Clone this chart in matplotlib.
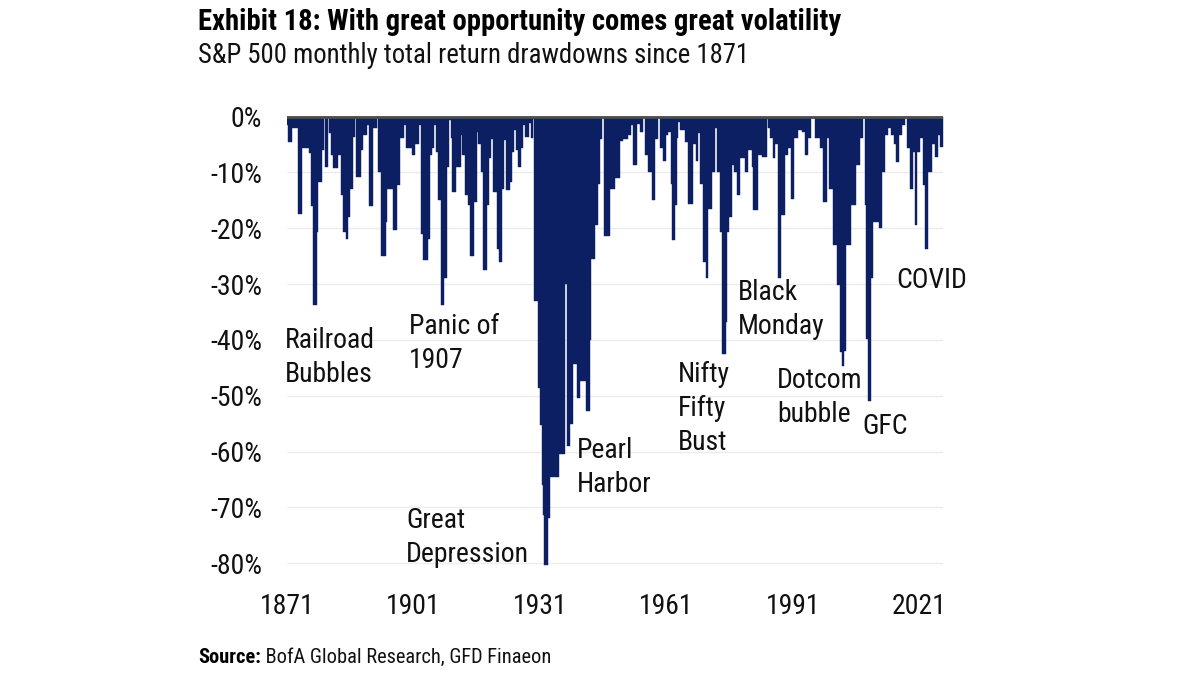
import matplotlib
matplotlib.use("Agg")
import matplotlib.pyplot as plt
import matplotlib.font_manager as fm
from matplotlib.font_manager import FontProperties

# ---------------- data ----------------
years = [1871.0, 1871.3, 1872.2, 1873.5, 1874.5, 1876.2, 1876.6, 1877.05, 1878.0, 1878.4,
         1879.2, 1879.7, 1879.9, 1880.6, 1880.9, 1881.3, 1881.9, 1883.1, 1883.7, 1884.3,
         1884.95, 1885.5, 1885.9, 1886.5, 1887.1, 1887.25, 1888.5, 1889.05, 1890.0, 1890.5,
         1891.4, 1892.2, 1892.45, 1892.6, 1893.25, 1894.4, 1894.8, 1896.2, 1897.0, 1897.8,
         1898.7, 1899.2, 1900.5, 1901.3, 1902.3, 1902.7, 1903.3, 1904.3, 1904.9, 1905.3,
         1905.9, 1906.2, 1906.85, 1907.5, 1908.3, 1908.85, 1909.5, 1909.9, 1910.2, 1911.05,
         1912.2, 1912.5, 1913.2, 1914.0, 1914.4, 1915.4, 1916.0, 1916.3, 1916.9, 1917.5,
         1918.3, 1918.9, 1919.35, 1919.75, 1920.7, 1921.25, 1922.0, 1922.5, 1922.9, 1923.85,
         1924.4, 1924.9, 1925.3, 1925.8, 1926.6, 1927.0, 1927.4, 1928.4, 1928.8, 1929.3,
         1929.6, 1930.4, 1931.0, 1931.4, 1931.75, 1932.0, 1932.95, 1933.4, 1935.5, 1936.9,
         1937.3, 1938.0, 1938.9, 1939.8, 1940.5, 1941.9, 1942.8, 1943.2, 1944.0, 1944.7,
         1945.2, 1945.8, 1946.2, 1947.6, 1948.8, 1950.0, 1950.7, 1951.9, 1952.5, 1953.1,
         1953.9, 1954.7, 1955.5, 1955.9, 1956.7, 1957.5, 1958.4, 1959.0, 1959.45, 1960.1,
         1961.0, 1961.4, 1962.0, 1962.35, 1963.0, 1963.4, 1963.8, 1964.2, 1965.4, 1966.2,
         1967.2, 1967.9, 1968.6, 1968.9, 1969.7, 1970.3, 1970.9, 1971.7, 1972.5, 1973.05,
         1973.7, 1974.3, 1975.1, 1975.4, 1975.9, 1976.5, 1977.1, 1977.65, 1978.4, 1979.6,
         1980.4, 1981.2, 1981.6, 1982.8, 1983.6, 1984.8, 1985.1, 1985.5, 1986.2, 1986.7,
         1987.5, 1988.3, 1989.1, 1989.9, 1990.45, 1991.2, 1992.3, 1993.1, 1993.85, 1994.6,
         1995.2, 1996.2, 1997.4, 1998.2, 1999.0, 1999.6, 2000.6, 2001.4, 2002.3, 2002.55,
         2003.1, 2003.6, 2004.9, 2006.1, 2006.9, 2007.7, 2008.1, 2008.45, 2008.85, 2009.45,
         2010.05, 2011.5, 2012.05, 2012.8, 2013.6, 2014.4, 2015.0, 2015.4, 2016.2, 2016.8,
         2017.6, 2018.0, 2018.75, 2019.4, 2019.95, 2020.5, 2021.1, 2021.9, 2022.4, 2023.1,
         2023.9, 2024.7, 2025.5, 2025.9, 2026.6]

drawdown = [-1.5, -4.5, -2.1, -17.4, -5.7, -6.6, -16.0, -33.8, -20.7, -11.7,
            -6.0, 0.0, -9.0, 0.0, -3.0, -6.9, -9.3, -6.9, -14.0, -20.7,
            -21.9, -18.0, -12.9, -3.6, 0.0, -10.8, -6.0, -3.3, -1.5, -16.0,
            -2.0, 0.0, -2.0, -10.0, -24.9, -18.9, -12.9, -20.4, -12.3, -3.9,
            -1.5, -5.7, -6.9, -5.0, -1.5, -21.0, -25.7, -21.9, -6.9, -5.7,
            -1.5, -6.3, -15.0, -33.8, -29.0, -9.0, -0.6, -3.9, -13.5, -9.0,
            -3.3, -6.9, -14.0, -15.9, -25.0, -15.3, -2.7, -5.0, -10.0, -27.5,
            -15.9, -7.5, -4.0, -13.5, -23.7, -26.0, -12.9, -4.2, -13.2, -11.7,
            -6.3, -2.4, -6.0, -9.0, -5.7, -1.5, -3.6, -1.2, -3.9, -0.5,
            -33.1, -48.6, -55.2, -66.0, -71.3, -80.3, -71.9, -64.5, -60.5, -30.0,
            -59.0, -55.0, -44.4, -50.4, -47.4, -52.8, -40.0, -25.5, -19.5, -12.0,
            -4.0, -0.3, -21.4, -13.0, -11.0, -4.4, -4.0, -3.3, -1.5, -8.6,
            -1.4, -2.7, 0.0, -6.9, -9.9, -15.0, -4.0, 0.0, -5.7, -8.0,
            -3.3, -2.7, -12.0, -22.2, -15.9, -3.9, -1.0, -2.5, -4.5, -15.6,
            -5.0, -8.0, -3.0, -12.0, -26.0, -29.0, -16.5, -9.9, -2.0, -9.9,
            -20.7, -42.5, -36.8, -20.7, -18.0, -8.7, -10.0, -14.1, -7.5, -9.9,
            -6.0, -9.0, -16.8, -6.9, -7.2, -0.5, -2.0, -3.9, -7.5, -5.0,
            -29.0, -17.7, -6.9, -5.7, -14.7, -3.9, -2.4, -2.7, -6.9, -3.9,
            -0.3, -3.9, -5.7, -15.3, -3.9, -12.9, -23.0, -30.2, -42.2, -44.6,
            -42.0, -23.0, -15.9, -8.7, -3.9, 0.0, -15.9, -39.8, -50.9, -29.0,
            -18.9, -20.0, -9.9, -3.3, -2.1, -3.3, -5.0, -8.1, -3.3, -1.5,
            0.0, -5.7, -12.9, -6.3, -19.5, -6.3, -3.9, -12.3, -23.7, -10.0,
            -5.0, -7.2, -3.3, -5.4, -5.4]

x_ticks = [1871, 1901, 1931, 1961, 1991, 2021]
y_ticks = [0, -10, -20, -30, -40, -50, -60, -70, -80]
y_tick_labels = ["0%", "-10%", "-20%", "-30%", "-40%", "-50%", "-60%", "-70%", "-80%"]

ann_texts = [["Railroad", "Bubbles"], ["Panic of", "1907"], ["Great", "Depression"],
             ["Pearl", "Harbor"], ["Nifty", "Fifty", "Bust"], ["Black", "Monday"],
             ["Dotcom", "bubble"], ["GFC"], ["COVID"]]

title = "Exhibit 18: With great opportunity comes great volatility"
subtitle = "S&P 500 monthly total return drawdowns since 1871"
source_bold = "Source:"
source_rest = " BofA Global Research, GFD Finaeon"

# ---------------- fonts: prefer a condensed family ----------------
def pick_font(bold):
    pref = ["Roboto Condensed", "Open Sans Condensed", "Liberation Sans Narrow",
            "Archivo Narrow", "Asap Condensed"]
    target = 700 if bold else 400
    cands = []
    for f in fm.fontManager.ttflist:
        if f.style != "normal":
            continue
        w = f.weight if isinstance(f.weight, (int, float)) else (700 if "bold" in str(f.weight) else 400)
        cands.append((f.name, w, f.fname))
    for p in pref:
        opts = [c for c in cands if c[0] == p]
        if opts:
            if bold:
                b = [c for c in opts if "Bold" in c[2] and "Extra" not in c[2] and "Semi" not in c[2]]
                if b:
                    return FontProperties(fname=b[0][2])
            else:
                r = [c for c in opts if "wght" in c[2] or "Regular" in c[2]]
                if r:
                    return FontProperties(fname=r[0][2])
            opts.sort(key=lambda c: abs(c[1] - target))
            return FontProperties(fname=opts[0][2])
    return FontProperties(family=["Liberation Sans", "DejaVu Sans"],
                          weight="bold" if bold else "normal")

fp_reg = pick_font(False)
fp_bold = pick_font(True)

navy = "#0b1f62"
txt = "#111111"

fig = plt.figure(figsize=(12, 6.75), dpi=100)
W, H = 1200, 675

# axes geometry in pixels: x 1871 -> 287.2, 2026.7 -> 943.3; y 0 -> 116.5, -80 -> 563.3
y0_px, ppp = 116.5, 5.585
ylo, yhi = -82.0, 0.4
top_px = y0_px - yhi * ppp
bot_px = y0_px - ylo * ppp
ax = fig.add_axes([287.2 / W, 1 - bot_px / H, 656.1 / W, (bot_px - top_px) / H])
ax.set_xlim(1871, 2026.7)
ax.set_ylim(ylo, yhi)

for v in y_ticks[1:]:
    ax.axhline(v, color="#ececec", lw=1.0, zorder=0)
ax.fill_between(years, drawdown, 0, step="post", color=navy, lw=0.3,
                edgecolor=navy, zorder=2)
ax.axhline(0, color="#4d4d4d", lw=2.0, zorder=3)

for s in ax.spines.values():
    s.set_visible(False)
ax.set_yticks(y_ticks)
ax.set_yticklabels(y_tick_labels)
ax.set_xticks(x_ticks)
ax.set_xticklabels([str(t) for t in x_ticks])
ax.tick_params(length=0)
ax.tick_params(axis="y", pad=18)
ax.tick_params(axis="x", pad=13)
for lab in ax.get_xticklabels() + ax.get_yticklabels():
    lab.set_fontproperties(fp_reg)
    lab.set_fontsize(20)
    lab.set_color(txt)

# annotations: left x px and baseline y px of first line; lines 34 px apart
ann_pos = [(285, 348), (409, 334), (406, 528), (577, 458), (678, 382), (738, 300),
           (777, 388), (862, 434), (896, 288)]
for lines, (px, py) in zip(ann_texts, ann_pos):
    for i, line in enumerate(lines):
        fig.text(px / W, 1 - (py + 34 * i) / H, line, fontproperties=fp_reg, fontsize=20,
                 color=txt, ha="left", va="baseline")

fig.text(198 / W, 1 - 30 / H, title, fontproperties=fp_bold, fontsize=20.6, color="#000000",
         ha="left", va="baseline")
fig.text(198 / W, 1 - 63 / H, subtitle, fontproperties=fp_reg, fontsize=19.3, color=txt,
         ha="left", va="baseline")

r = fig.canvas.get_renderer()
sb = fig.text(198 / W, 1 - 663 / H, source_bold, fontproperties=fp_bold, fontsize=14.7,
              color="#000000", ha="left", va="baseline")
bb = sb.get_window_extent(renderer=r)
fig.text(bb.x1 / W, 1 - 663 / H, source_rest, fontproperties=fp_reg, fontsize=14.7,
         color=txt, ha="left", va="baseline")

fig.savefig("out.png", dpi=100, facecolor="white")
